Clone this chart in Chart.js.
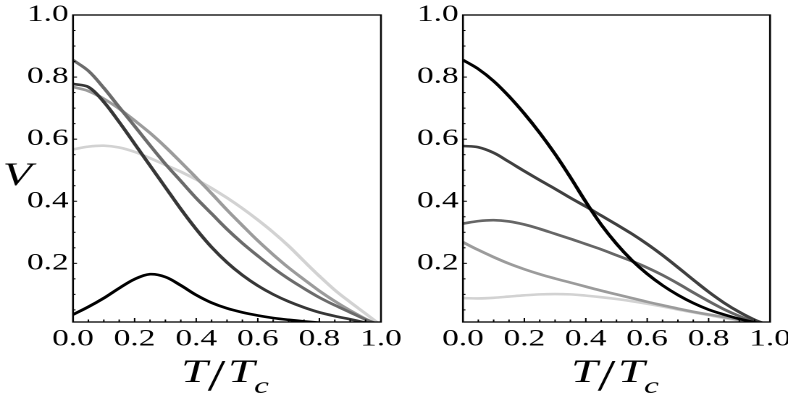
<!DOCTYPE html>
<html>
<head>
<meta charset="utf-8">
<script src="https://cdn.jsdelivr.net/npm/chart.js@4.4.1/dist/chart.umd.min.js"></script>
<style>
  html, body { margin: 0; padding: 0; background: #fff; overflow: hidden; }
  #wrap { position: relative; width: 788px; height: 398px; overflow: hidden; }
  /* the original figure is stretched sideways, so draw narrow and widen */
  canvas { position: absolute; left: 0; top: 0; transform-origin: 0 0; transform: scaleX(1.4485); }
</style>
</head>
<body>
<div id="wrap">
  <canvas id="left" width="550" height="398"></canvas>
  <canvas id="right" width="550" height="398"></canvas>
</div>
<script>
// T/Tc sample points shared by every curve
const temps = [0, 0.05, 0.1, 0.15, 0.2, 0.25, 0.3, 0.35, 0.4, 0.45, 0.5,
               0.55, 0.6, 0.65, 0.7, 0.75, 0.8, 0.85, 0.9, 0.95, 1];
const xTicks = [0, 0.2, 0.4, 0.6, 0.8, 1.0];
const yTicks = [0.2, 0.4, 0.6, 0.8, 1.0];

// left panel
const leftBlack = [0.035, 0.06, 0.088, 0.12, 0.149, 0.165, 0.156, 0.129, 0.098, 0.073, 0.055,
                   0.042, 0.032, 0.024, 0.018, 0.013, 0.009, 0.006, 0.003, 0.001, 0];
const leftDark  = [0.778, 0.768, 0.72, 0.655, 0.585, 0.515, 0.445, 0.375, 0.31, 0.252, 0.203,
                   0.162, 0.128, 0.1, 0.077, 0.058, 0.042, 0.03, 0.02, 0.009, 0];
const leftMid   = [0.855, 0.82, 0.765, 0.703, 0.642, 0.58, 0.52, 0.465, 0.41, 0.36, 0.31,
                   0.265, 0.224, 0.185, 0.15, 0.119, 0.09, 0.065, 0.042, 0.019, 0];
const leftLight = [0.768, 0.755, 0.73, 0.698, 0.66, 0.62, 0.575, 0.526, 0.476, 0.425, 0.372,
                   0.322, 0.273, 0.228, 0.186, 0.148, 0.111, 0.078, 0.048, 0.021, 0];
const leftPale  = [0.567, 0.576, 0.579, 0.573, 0.559, 0.539, 0.517, 0.495, 0.47, 0.442, 0.411,
                   0.377, 0.34, 0.3, 0.256, 0.207, 0.159, 0.114, 0.075, 0.038, 0];

// right panel
const rightBlack = [0.855, 0.826, 0.787, 0.738, 0.682, 0.62, 0.552, 0.477, 0.398, 0.325, 0.263,
                    0.21, 0.166, 0.129, 0.098, 0.072, 0.051, 0.035, 0.021, 0.01, 0];
const rightDark  = [0.578, 0.574, 0.556, 0.527, 0.497, 0.468, 0.44, 0.411, 0.383, 0.354, 0.325,
                    0.295, 0.262, 0.226, 0.187, 0.147, 0.108, 0.073, 0.043, 0.018, 0];
const rightMid   = [0.328, 0.336, 0.339, 0.335, 0.325, 0.311, 0.295, 0.279, 0.262, 0.245, 0.226,
                    0.207, 0.186, 0.162, 0.135, 0.106, 0.078, 0.052, 0.03, 0.012, 0];
const rightLight = [0.268, 0.243, 0.22, 0.199, 0.181, 0.165, 0.151, 0.138, 0.125, 0.112, 0.1,
                    0.088, 0.076, 0.065, 0.054, 0.044, 0.035, 0.027, 0.018, 0.009, 0];
const rightPale  = [0.088, 0.087, 0.089, 0.093, 0.097, 0.1, 0.101, 0.1, 0.096, 0.091, 0.085,
                    0.078, 0.07, 0.061, 0.051, 0.042, 0.033, 0.024, 0.016, 0.008, 0];

const SX = 1.4485;   // horizontal stretch applied by css
const serif = '"Liberation Serif", "Times New Roman", serif';

// frame, inward ticks and the axis titles (Mathematica look)
const framePlugin = {
  id: 'frame',
  afterDraw(chart, args, opts) {
    const { ctx, chartArea: a, scales: { x, y } } = chart;
    ctx.save();
    ctx.strokeStyle = '#000';
    ctx.lineWidth = 1;
    for (let i = 1; i < 20; i++) {
      const v = i / 20;
      const major = i % 4 === 0;
      const px = x.getPixelForValue(v);
      ctx.beginPath();
      ctx.moveTo(px, a.bottom);
      ctx.lineTo(px, a.bottom - (major ? 4 : 2.5));
      ctx.stroke();
      const py = y.getPixelForValue(v);
      if (py < a.bottom - 1) {
        ctx.beginPath();
        ctx.moveTo(a.left, py);
        ctx.lineTo(a.left + (major ? 4 : 2.5) / SX, py);
        ctx.stroke();
      }
    }
    ctx.lineWidth = 1.3;
    ctx.strokeRect(a.left, a.top, a.right - a.left, a.bottom - a.top);

    ctx.fillStyle = '#000';
    ctx.textBaseline = 'alphabetic';
    ctx.textAlign = 'left';
    const x0 = a.left;
    ctx.font = 'italic 33px ' + serif;
    ctx.fillText('T', x0 + 74.6, 382);
    ctx.fillText('T', x0 + 107, 382);
    ctx.font = 'italic 23px ' + serif;
    ctx.fillText('c', x0 + 125, 393);
    ctx.font = '44px ' + serif;
    ctx.fillText('/', x0 + 93, 390);
    if (opts.yTitle) {
      ctx.font = 'italic 33px ' + serif;
      ctx.textAlign = 'center';
      ctx.fillText(opts.yTitle, 12, 185);
    }
    ctx.restore();
  }
};

function series(values, color) {
  return {
    data: temps.map((t, i) => ({ x: t, y: values[i] })),
    borderColor: color,
    borderWidth: 2.6,
    pointRadius: 0,
    tension: 0.35,
    fill: false
  };
}

function makeChart(id, datasets, pad, yTitle) {
  new Chart(document.getElementById(id), {
    type: 'line',
    data: { datasets },
    plugins: [framePlugin],
    options: {
      responsive: false,
      animation: false,
      devicePixelRatio: 2,
      layout: { padding: { left: pad.left, right: pad.right, top: 15, bottom: 0 } },
      plugins: {
        legend: { display: false },
        tooltip: { enabled: false },
        frame: { yTitle }
      },
      scales: {
        x: {
          type: 'linear', min: 0, max: 1,
          grid: { display: false, drawTicks: false },
          border: { display: false },
          afterBuildTicks: s => { s.ticks = xTicks.map(v => ({ value: v })); },
          afterFit: s => { s.height = 76; s.paddingLeft = 0; s.paddingRight = 0; },
          ticks: {
            color: '#000', padding: 6, maxRotation: 0, autoSkip: false,
            font: { family: serif, size: 23, lineHeight: 1 },
            callback: v => v.toFixed(1)
          }
        },
        y: {
          min: 0.011, max: 1,
          grid: { display: false, drawTicks: false },
          border: { display: false },
          afterBuildTicks: s => { s.ticks = yTicks.map(v => ({ value: v })); },
          afterFit: s => { s.width = 50.4; s.paddingTop = 0; s.paddingBottom = 0; },
          ticks: {
            color: '#000', padding: 3, autoSkip: false,
            font: { family: serif, size: 23, lineHeight: 1 },
            callback: v => v.toFixed(1)
          }
        }
      }
    }
  });
}

makeChart('left', [
  series(leftBlack, '#000000'),
  series(leftDark, '#363636'),
  series(leftMid, '#6b6b6b'),
  series(leftLight, '#9b9b9b'),
  series(leftPale, '#d2d2d2')
], { left: 0, right: 287 }, 'V');

makeChart('right', [
  series(rightBlack, '#000000'),
  series(rightDark, '#3f3f3f'),
  series(rightMid, '#666666'),
  series(rightLight, '#9b9b9b'),
  series(rightPale, '#d2d2d2')
], { left: 269.2, right: 18.4 }, null);
</script>
</body>
</html>
